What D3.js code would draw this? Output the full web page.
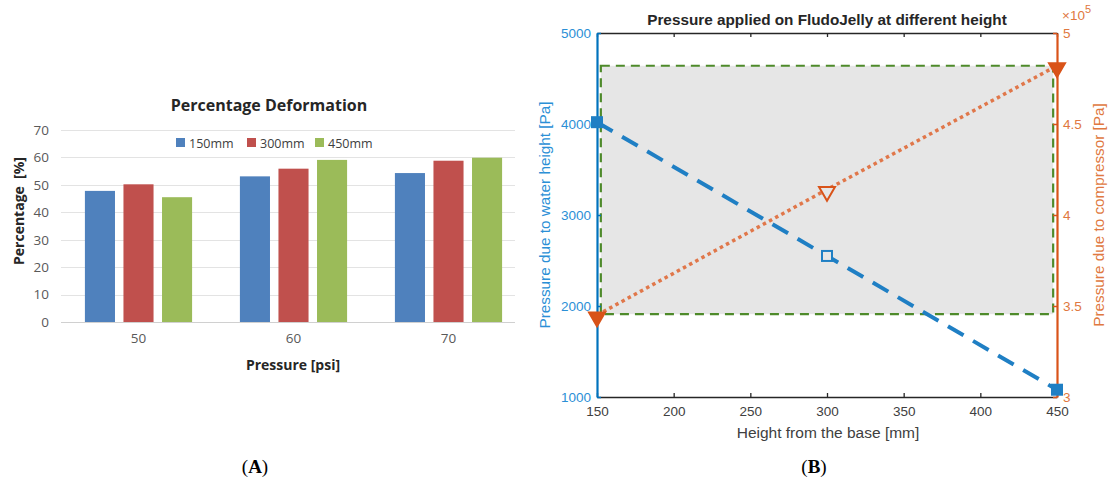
<!DOCTYPE html>
<html>
<head>
<meta charset="utf-8">
<script src="https://cdn.jsdelivr.net/npm/d3@7"></script>
<style>
  body { margin: 0; background: #fff; }
  svg { display: block; }
</style>
</head>
<body>
<div id="chart"></div>
<script>
// ---- panel A data
var pressures = ["50", "60", "70"];
var heights = ["150mm", "300mm", "450mm"];
var deform150 = [47.8, 53.1, 54.3];
var deform300 = [50.2, 55.9, 58.8];
var deform450 = [45.5, 59.1, 59.9];
var barColors = ["#4f81bd", "#c0504d", "#9bbb59"];
var pctTicks = [0, 10, 20, 30, 40, 50, 60, 70];

// ---- panel B data
var heightMm = [150, 300, 450];
var waterPa = [4020, 2550, 1080];
var compressorPa = [345000, 414000, 482000];
var xTicksB = [150, 200, 250, 300, 350, 400, 450];
var leftTicks = [1000, 2000, 3000, 4000, 5000];
var rightTicks = [300000, 350000, 400000, 450000, 500000];
var regionX = [152.5, 447.5];
var regionY = [1910, 4640];

var W = 1110, H = 484;
var svg = d3.select("#chart").append("svg").attr("width", W).attr("height", H);

// ================= panel A =================
var fontA = "'Open Sans', 'Liberation Sans', sans-serif";
var gA = svg.append("g");
var yA = d3.scaleLinear().domain([0, 70]).range([322, 130]);
var xA = d3.scaleBand().domain(pressures).range([61, 526]);
var xInner = d3.scaleBand().domain(heights).range([0, xA.bandwidth()]).paddingInner(0.22).paddingOuter(0.62);

gA.selectAll("line.grid").data(pctTicks).enter().append("line")
  .attr("x1", 61).attr("x2", 515)
  .attr("y1", function(d){ return Math.round(yA(d)) + 0.5; })
  .attr("y2", function(d){ return Math.round(yA(d)) + 0.5; })
  .attr("stroke", function(d){ return d == 0 ? "#d0d0d0" : "#e3e3e3"; }).attr("stroke-width", 1);

var axA = d3.axisLeft(yA).tickValues(pctTicks).tickSize(0).tickPadding(8);
var axg = gA.append("g").attr("transform", "translate(57,0)").call(axA);
axg.select(".domain").remove();
axg.selectAll("text").attr("font-family", fontA).attr("font-size", 13.5).attr("fill", "#595959");

var series = [deform150, deform300, deform450];
series.forEach(function(vals, si){
  gA.selectAll("rect.s" + si).data(vals).enter().append("rect")
    .attr("x", function(d, i){ return xA(pressures[i]) + xInner(heights[si]); })
    .attr("width", xInner.bandwidth())
    .attr("y", function(d){ return yA(d); })
    .attr("height", function(d){ return yA(0) - yA(d); })
    .attr("fill", barColors[si]);
});

var axX = d3.axisBottom(xA).tickSize(0).tickPadding(11);
var axxg = gA.append("g").attr("transform", "translate(0,322)").call(axX);
axxg.select(".domain").remove();
axxg.selectAll("text").attr("font-family", fontA).attr("font-size", 13.5).attr("fill", "#595959");

gA.append("text").attr("x", 269).attr("y", 111).attr("text-anchor", "middle")
  .attr("font-family", fontA).attr("font-weight", "bold").attr("font-size", 16).attr("fill", "#262626")
  .text("Percentage Deformation");
gA.append("text").attr("x", 293).attr("y", 370).attr("text-anchor", "middle")
  .attr("font-family", fontA).attr("font-weight", "bold").attr("font-size", 14).attr("fill", "#262626")
  .text("Pressure [psi]");
gA.append("text").attr("transform", "translate(24,211) rotate(-90)").attr("text-anchor", "middle")
  .attr("font-family", fontA).attr("font-weight", "bold").attr("font-size", 14).attr("fill", "#262626")
  .attr("xml:space", "preserve").text("Percentage  [%]");

// legend
var legX = [176, 247, 315];
heights.forEach(function(h, i){
  gA.append("rect").attr("x", legX[i]).attr("y", 138).attr("width", 9).attr("height", 9).attr("fill", barColors[i]);
  gA.append("text").attr("x", legX[i] + 13).attr("y", 147.5).attr("font-family", fontA).attr("font-size", 12.5)
    .attr("fill", "#404040").text(h);
});

// ================= panel B =================
var fontB = "'Liberation Sans', Arial, sans-serif";
var blue = "#0072bd", blueTxt = "#2b8fd6", orange = "#d95319", orangeTxt = "#e07840", green = "#4e8a2a";
var gB = svg.append("g");
var xB = d3.scaleLinear().domain([150, 450]).range([597, 1057]);
var yL = d3.scaleLinear().domain([1000, 5000]).range([397, 33]);
var yR = d3.scaleLinear().domain([300000, 500000]).range([397, 33]);

// shaded region
gB.append("rect")
  .attr("x", xB(regionX[0])).attr("y", yL(regionY[1]))
  .attr("width", xB(regionX[1]) - xB(regionX[0])).attr("height", yL(regionY[0]) - yL(regionY[1]))
  .attr("fill", "#e6e6e6").attr("stroke", green).attr("stroke-width", 2.2).attr("stroke-dasharray", "9 6");

// bottom axis
var axB = d3.axisBottom(xB).tickValues(xTicksB).tickSizeInner(-4).tickSizeOuter(0).tickPadding(9);
var bg = gB.append("g").attr("transform", "translate(0,397)").call(axB);
bg.select(".domain").attr("stroke", "#262626").attr("stroke-width", 1.5);
bg.selectAll(".tick line").attr("stroke", "#262626").attr("stroke-width", 1.3);
bg.selectAll("text").attr("font-family", fontB).attr("font-size", 13.5).attr("fill", "#404040");

// top axis (ticks only)
var axT = d3.axisTop(xB).tickValues(xTicksB).tickSizeInner(-4).tickSizeOuter(0).tickFormat("");
var tg = gB.append("g").attr("transform", "translate(0,33)").call(axT);
tg.select(".domain").attr("stroke", "#262626").attr("stroke-width", 1.5);
tg.selectAll(".tick line").attr("stroke", "#262626").attr("stroke-width", 1.3);

// left axis
var axL = d3.axisLeft(yL).tickValues(leftTicks).tickSizeInner(-4).tickSizeOuter(0).tickPadding(6)
  .tickFormat(d3.format("d"));
var lg = gB.append("g").attr("transform", "translate(597,0)").call(axL);
lg.select(".domain").attr("stroke", blue).attr("stroke-width", 2.2);
lg.selectAll(".tick line").attr("stroke", blue).attr("stroke-width", 1.5);
lg.selectAll("text").attr("font-family", fontB).attr("font-size", 13.5).attr("fill", blueTxt);

// right axis
var axR = d3.axisRight(yR).tickValues(rightTicks).tickSizeInner(-4).tickSizeOuter(0).tickPadding(6)
  .tickFormat(function(d){ return d3.format("~g")(d / 1e5); });
var rg = gB.append("g").attr("transform", "translate(1057,0)").call(axR);
rg.select(".domain").attr("stroke", orange).attr("stroke-width", 2.2);
rg.selectAll(".tick line").attr("stroke", orange).attr("stroke-width", 1.5);
rg.selectAll("text").attr("font-family", fontB).attr("font-size", 13.5).attr("fill", orangeTxt);

var expo = gB.append("text").attr("x", 1062).attr("y", 20).attr("font-family", fontB).attr("font-size", 13.5).attr("fill", orangeTxt);
expo.append("tspan").text("\u00d710");
expo.append("tspan").attr("dy", -7).attr("font-size", 11).text("5");

// blue line
var lineL = d3.line().x(function(d, i){ return xB(heightMm[i]); }).y(function(d){ return yL(d); });
gB.append("path").datum(waterPa).attr("d", lineL).attr("fill", "none")
  .attr("stroke", "#1f7fc4").attr("stroke-width", 4).attr("stroke-dasharray", "18 11");
gB.selectAll("rect.mk").data(waterPa).enter().append("rect")
  .attr("x", function(d, i){ return xB(heightMm[i]) - 5; })
  .attr("y", function(d){ return yL(d) - 5; })
  .attr("width", 10).attr("height", 10)
  .attr("fill", function(d, i){ return i == 1 ? "#e6e6e6" : "#1f7fc4"; })
  .attr("stroke", "#1f7fc4").attr("stroke-width", 2);

// orange line
var lineR = d3.line().x(function(d, i){ return xB(heightMm[i]); }).y(function(d){ return yR(d); });
gB.append("path").datum(compressorPa).attr("d", lineR).attr("fill", "none")
  .attr("stroke", "#e0774a").attr("stroke-width", 3.5).attr("stroke-dasharray", "3.5 3.5");
var tri = d3.symbol().type(d3.symbolTriangle).size(110);
gB.selectAll("path.tri").data(compressorPa).enter().append("path")
  .attr("d", tri)
  .attr("transform", function(d, i){ return "translate(" + xB(heightMm[i]) + "," + (yR(d) + 2) + ") rotate(180)"; })
  .attr("fill", function(d, i){ return i == 1 ? "#e6e6e6" : orange; })
  .attr("stroke", orange).attr("stroke-width", 2);

// titles / labels
gB.append("text").attr("x", 827).attr("y", 25).attr("text-anchor", "middle")
  .attr("font-family", fontB).attr("font-weight", "bold").attr("font-size", 15.3).attr("fill", "#262626")
  .text("Pressure applied on FludoJelly at different height");
gB.append("text").attr("x", 828).attr("y", 438).attr("text-anchor", "middle")
  .attr("font-family", fontB).attr("font-size", 15.5).attr("fill", "#404040")
  .text("Height from the base [mm]");
gB.append("text").attr("transform", "translate(550,215) rotate(-90)").attr("text-anchor", "middle")
  .attr("font-family", fontB).attr("font-size", 15.3).attr("fill", blueTxt)
  .text("Pressure due to water height [Pa]");
gB.append("text").attr("transform", "translate(1104,215) rotate(-90)").attr("text-anchor", "middle")
  .attr("font-family", fontB).attr("font-size", 15.3).attr("fill", orangeTxt)
  .text("Pressure due to compressor [Pa]");

// panel labels
[["A", 255], ["B", 814]].forEach(function(p){
  var t = svg.append("text").attr("x", p[1]).attr("y", 473).attr("text-anchor", "middle")
    .attr("font-family", "'Liberation Serif', 'DejaVu Serif', serif").attr("font-size", 19).attr("fill", "#000");
  t.append("tspan").text("(");
  t.append("tspan").attr("font-weight", "bold").text(p[0]);
  t.append("tspan").text(")");
});
</script>
</body>
</html>
